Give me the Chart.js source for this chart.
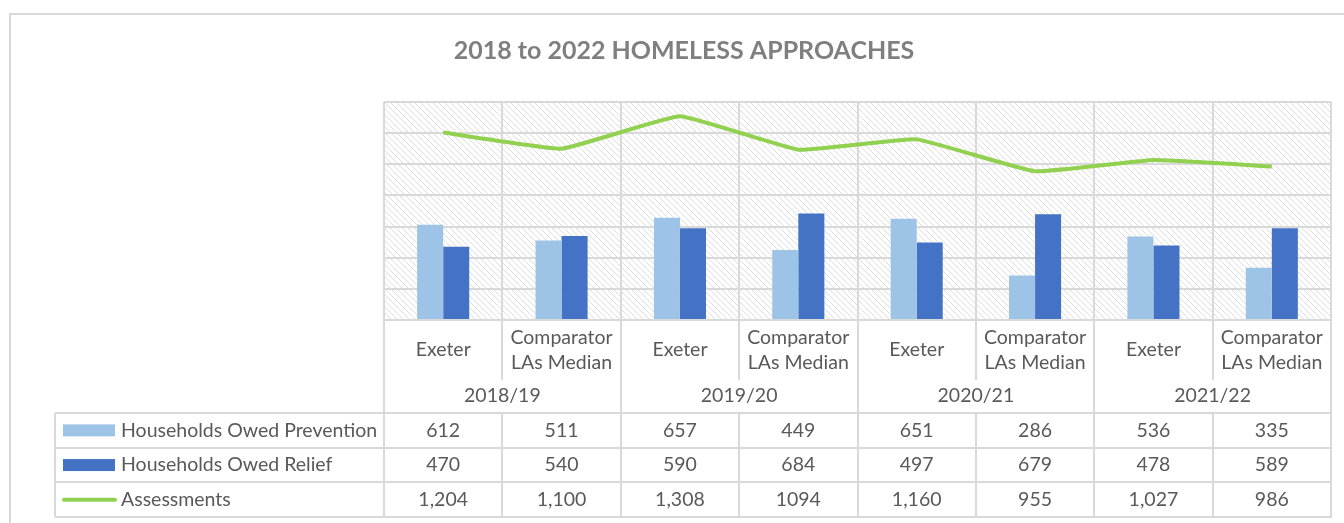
<!DOCTYPE html>
<html>
<head>
<meta charset="utf-8">
<script src="https://cdn.jsdelivr.net/npm/chart.js@4.4.0/dist/chart.umd.min.js"></script>
<style>
  html, body { margin: 0; padding: 0; background: #fff; }
</style>
</head>
<body>
<canvas id="approachesChart" width="1344" height="523"></canvas>
<script>
// chart values
const years = ["2018/19", "2019/20", "2020/21", "2021/22"];
const groups = [["Exeter"], ["Comparator", "LAs Median"]];
const categories = ["2018/19 Exeter", "2018/19 Comparator", "2019/20 Exeter", "2019/20 Comparator",
  "2020/21 Exeter", "2020/21 Comparator", "2021/22 Exeter", "2021/22 Comparator"];
const prevention = [612, 511, 657, 449, 651, 286, 536, 335];
const relief = [470, 540, 590, 684, 497, 679, 478, 589];
const assessments = [1204, 1100, 1308, 1094, 1160, 955, 1027, 986];
// how the table prints them (one cell has no comma in the original)
const assessmentLabels = ["1,204", "1,100", "1,308", "1094", "1,160", "955", "1,027", "986"];

const seriesNames = ["Households Owed Prevention", "Households Owed Relief", "Assessments"];
const colors = ["#9DC3E6", "#4472C4", "#92D050"];
const titleText = "2018 to 2022 HOMELESS APPROACHES";

const gridColor = "#D9D9D9";
const textColor = "#595959";
const fontFamily = "Lato, 'Open Sans', sans-serif";

// light downward diagonal fill like Excel's pattern
const makeHatch = () => {
  const c = document.createElement("canvas");
  c.width = 6;
  c.height = 6;
  const g = c.getContext("2d");
  g.fillStyle = "#fff";
  g.fillRect(0, 0, 6, 6);
  g.strokeStyle = "#DEDEDE";
  g.lineWidth = 1;
  g.beginPath();
  g.moveTo(-1, -1);
  g.lineTo(7, 7);
  g.moveTo(-4, 2);
  g.lineTo(4, 10);
  g.moveTo(2, -4);
  g.lineTo(10, 4);
  g.stroke();
  return g.createPattern(c, "repeat");
};

const hatchPlugin = {
  id: "hatch",
  beforeDraw(chart) {
    const { ctx, chartArea } = chart;
    ctx.save();
    // outer chart border
    ctx.strokeStyle = gridColor;
    ctx.lineWidth = 2;
    ctx.strokeRect(10, 14, chart.width + 10, chart.height + 10);
    ctx.fillStyle = makeHatch();
    ctx.fillRect(chartArea.left, chartArea.top, chartArea.right - chartArea.left, chartArea.bottom - chartArea.top);
    // title sits centred on the whole chart, not the plot
    ctx.fillStyle = "#7F7F7F";
    ctx.font = "bold 25px " + fontFamily;
    ctx.textAlign = "center";
    ctx.textBaseline = "middle";
    ctx.fillText(titleText, 684, 51);
    ctx.restore();
  },
};

const tablePlugin = {
  id: "dataTable",
  afterDraw(chart) {
    const { ctx, chartArea } = chart;
    const x = chart.scales.x;
    const n = categories.length;
    const w = (chartArea.right - chartArea.left) / n;
    const edge = (i) => chartArea.left + i * w;
    const top = chartArea.bottom;
    const catBottom = top + 60;
    const yearBottom = top + 93;
    const rowH = 34.7;
    const legendLeft = 55;

    ctx.save();
    ctx.strokeStyle = gridColor;
    ctx.lineWidth = 2;
    ctx.beginPath();
    for (let i = 0; i <= n; i++) {
      const px = Math.round(edge(i));
      ctx.moveTo(px, top);
      ctx.lineTo(px, i % 2 === 0 ? yearBottom + rowH * 3 : catBottom);
      if (i % 2 === 1) {
        ctx.moveTo(px, yearBottom);
        ctx.lineTo(px, yearBottom + rowH * 3);
      }
    }
    for (let r = 0; r <= 3; r++) {
      const py = Math.round(yearBottom + r * rowH);
      ctx.moveTo(legendLeft, py);
      ctx.lineTo(chartArea.right + 1, py);
    }
    ctx.moveTo(legendLeft, yearBottom);
    ctx.lineTo(legendLeft, yearBottom + rowH * 3);
    ctx.stroke();

    ctx.fillStyle = textColor;
    ctx.textAlign = "center";
    ctx.textBaseline = "middle";
    ctx.font = "19.5px " + fontFamily;
    // category labels
    for (let i = 0; i < n; i++) {
      const cx = x.getPixelForValue(i);
      const lines = groups[i % 2];
      const lh = 25;
      lines.forEach((t, k) => {
        ctx.fillText(t, cx, top + 30 + (k - (lines.length - 1) / 2) * lh);
      });
    }
    // year labels
    years.forEach((yr, j) => {
      ctx.fillText(yr, (edge(j * 2) + edge(j * 2 + 2)) / 2, top + 76);
    });
    // value rows
    const rows = [prevention.map(String), relief.map(String), assessmentLabels];
    rows.forEach((vals, r) => {
      const cy = yearBottom + r * rowH + rowH / 2;
      vals.forEach((v, i) => ctx.fillText(v, x.getPixelForValue(i), cy));
    });
    // legend keys
    ctx.textAlign = "left";
    seriesNames.forEach((name, r) => {
      const cy = yearBottom + r * rowH + rowH / 2;
      if (r < 2) {
        ctx.fillStyle = colors[r];
        ctx.fillRect(63, cy - 6, 52, 12);
      } else {
        ctx.strokeStyle = colors[r];
        ctx.lineWidth = 4;
        ctx.lineCap = "round";
        ctx.beginPath();
        ctx.moveTo(64, cy);
        ctx.lineTo(115, cy);
        ctx.stroke();
      }
      ctx.fillStyle = textColor;
      ctx.fillText(name, 121, cy);
    });
    ctx.restore();
  },
};

const ctx = document.getElementById("approachesChart");
new Chart(ctx, {
  type: "bar",
  data: {
    labels: categories,
    datasets: [
      {
        type: "line",
        label: seriesNames[2],
        data: assessments,
        borderColor: colors[2],
        borderWidth: 4,
        pointRadius: 0,
        tension: 0.1,
        order: 0,
      },
      {
        label: seriesNames[0],
        data: prevention,
        backgroundColor: colors[0],
        categoryPercentage: 0.44,
        barPercentage: 1,
        order: 1,
      },
      {
        label: seriesNames[1],
        data: relief,
        backgroundColor: colors[1],
        categoryPercentage: 0.44,
        barPercentage: 1,
        order: 1,
      },
    ],
  },
  options: {
    responsive: false,
    animation: false,
    layout: {
      padding: { left: 384, right: 13, top: 102, bottom: 203 },
    },
    plugins: {
      legend: { display: false },
      tooltip: { enabled: false },
    },
    scales: {
      x: {
        ticks: { display: false },
        grid: { color: gridColor, lineWidth: 2, drawTicks: false },
        border: { color: gridColor, width: 2 },
      },
      y: {
        min: 0,
        max: 1400,
        ticks: { display: false, stepSize: 200 },
        grid: { color: gridColor, lineWidth: 2, drawTicks: false },
        border: { display: false },
      },
    },
  },
  plugins: [hatchPlugin, tablePlugin],
});
</script>
</body>
</html>
